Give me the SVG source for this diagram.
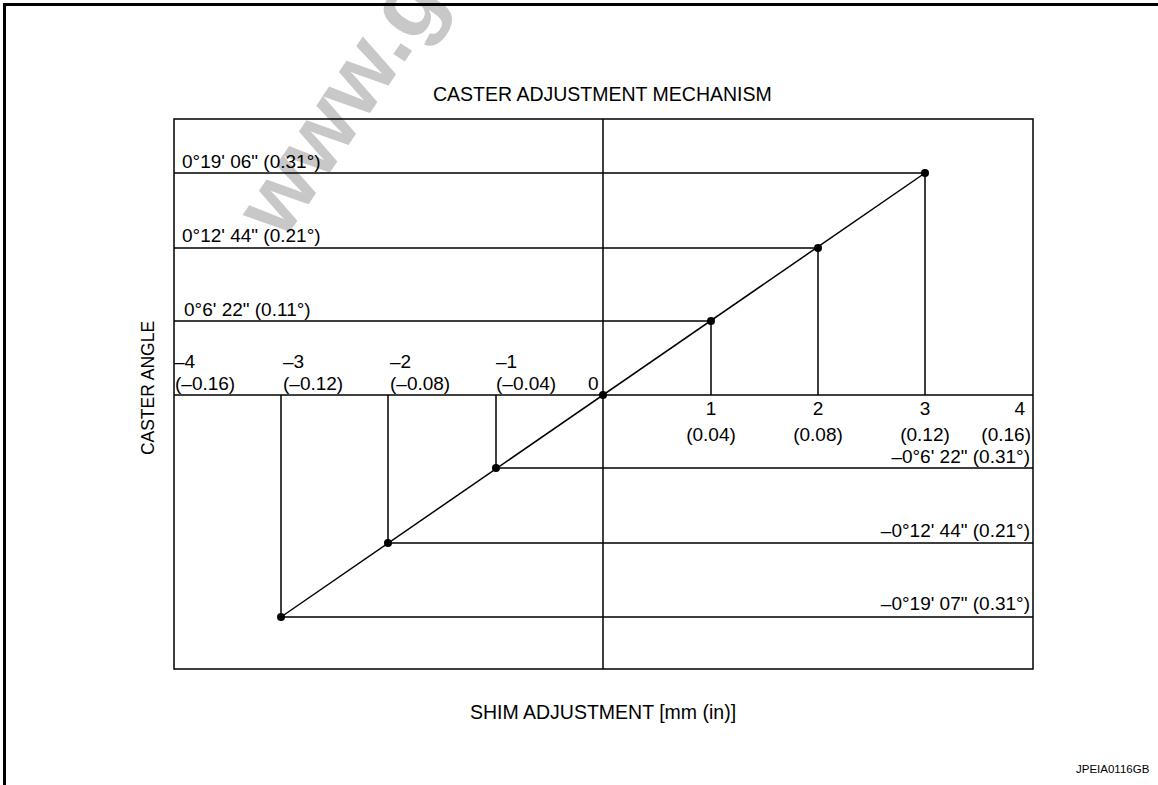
<svg xmlns="http://www.w3.org/2000/svg" width="1158" height="785" viewBox="0 0 1158 785">
<style>
text{font-family:"Liberation Sans",Arial,Helvetica,sans-serif;font-size:19px;fill:#000}
.ln{stroke:#000;stroke-width:1.5;fill:none}
.mid{text-anchor:middle}
.end{text-anchor:end}
.wm{font-size:92px;font-weight:bold;fill:#c8c8c8}
</style>
<rect width="1158" height="785" fill="#fff"/>
<g id="watermark"><text class="wm" transform="translate(283,242) rotate(-56)">www.g</text></g>
<path id="frame" d="M4.5,785 V4.5 H1158" stroke="#000" stroke-width="3" fill="none"/>
<text id="title" x="433" y="101" style="font-size:19.5px">CASTER ADJUSTMENT MECHANISM</text>
<g id="chart-box"><rect class="ln" x="174" y="119" width="859" height="550"/><line class="ln" x1="603" y1="119" x2="603" y2="669"/><line class="ln" x1="174" y1="395" x2="1033" y2="395"/></g>
<g id="connectors">
<path class="ln" d="M174,173H925V395 M174,248H818V395 M174,321H711V395 M1033,468H496V395 M1033,543H388V395 M1033,617H281V395"/>
<line class="ln" x1="281" y1="617" x2="925" y2="173"/>
</g>
<g id="points" fill="#000">
<circle cx="281" cy="617" r="4"/><circle cx="388" cy="543" r="4"/><circle cx="496" cy="468" r="4"/><circle cx="603" cy="395" r="4"/><circle cx="711" cy="321" r="4"/><circle cx="818" cy="248" r="4"/><circle cx="925" cy="173" r="4"/>
</g>
<g id="angle-labels">
<text x="182" y="168">0°19' 06" (0.31°)</text>
<text x="182" y="242">0°12' 44" (0.21°)</text>
<text x="184" y="316">0°6' 22" (0.11°)</text>
<text class="end" x="1030" y="463">–0°6' 22" (0.31°)</text>
<text class="end" x="1030" y="537">–0°12' 44" (0.21°)</text>
<text class="end" x="1030" y="610">–0°19' 07" (0.31°)</text>
</g>
<g id="shim-labels">
<text x="174" y="368">–4</text><text x="175" y="390">(–0.16)</text>
<text x="283" y="368">–3</text><text x="283" y="390">(–0.12)</text>
<text x="390" y="368">–2</text><text x="390" y="390">(–0.08)</text>
<text x="496" y="368">–1</text><text x="496" y="390">(–0.04)</text>
<text x="588" y="390">0</text>
<text class="mid" x="711" y="415">1</text><text class="mid" x="711" y="441">(0.04)</text>
<text class="mid" x="818" y="415">2</text><text class="mid" x="818" y="441">(0.08)</text>
<text class="mid" x="925" y="415">3</text><text class="mid" x="925" y="441">(0.12)</text>
<text class="end" x="1025" y="415">4</text><text class="end" x="1031" y="441">(0.16)</text>
</g>
<text id="y-axis-title" class="mid" transform="translate(154,388) rotate(-90)" style="font-size:17.5px">CASTER ANGLE</text>
<text id="x-axis-title" class="mid" x="603" y="719" style="font-size:19.5px">SHIM ADJUSTMENT [mm (in)]</text>
<text id="code" x="1076" y="773" style="font-size:11.5px">JPEIA0116GB</text>
</svg>
